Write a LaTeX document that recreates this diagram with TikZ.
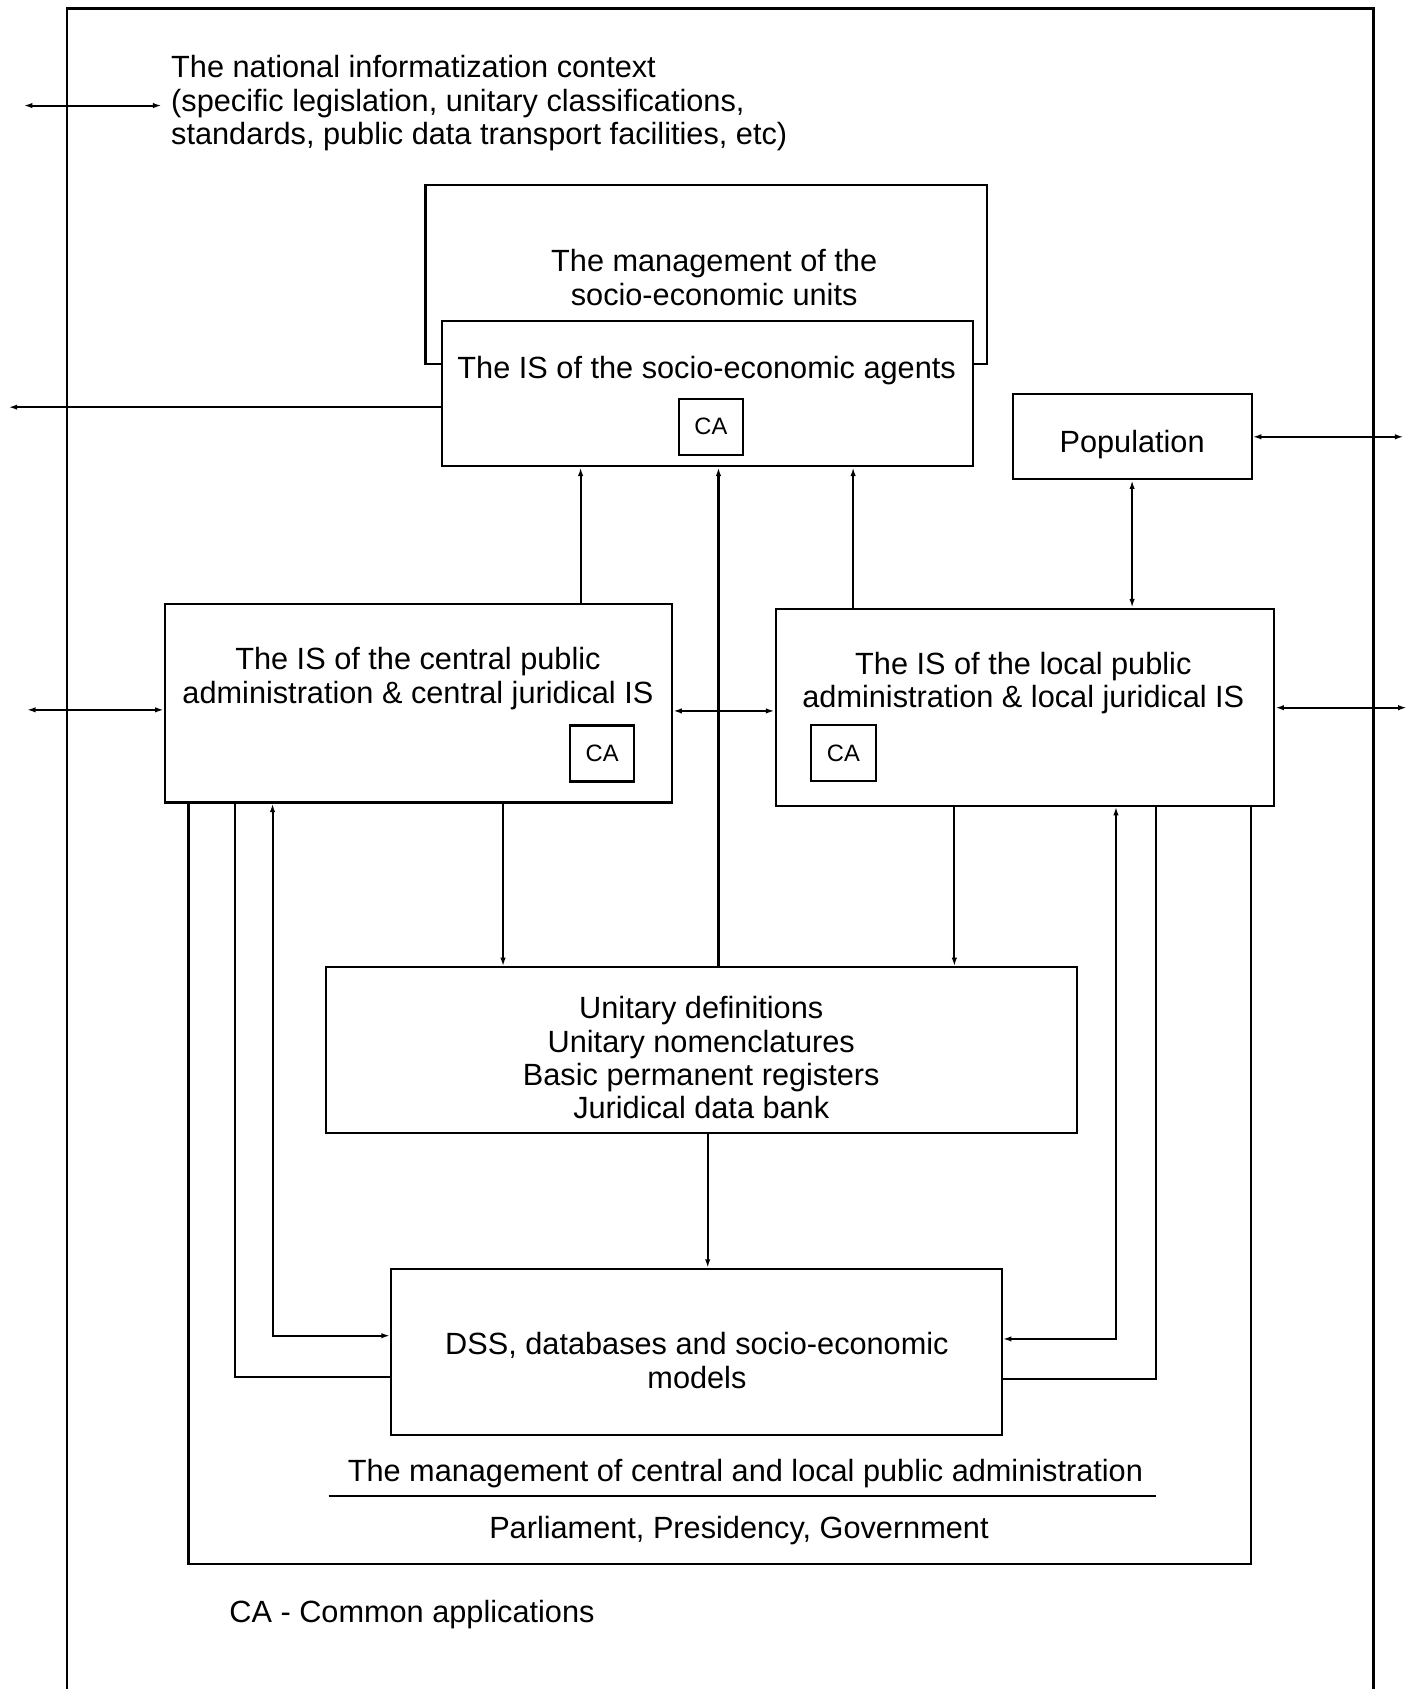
\documentclass[tikz,border=0pt]{standalone}
\usepackage{fontspec}
\setmainfont{Liberation Sans}
\usetikzlibrary{arrows.meta}
\begin{document}
\begin{tikzpicture}[x=1pt,y=-1pt,
  line width=1.9pt,
  >={Latex[length=8pt,width=5pt]},
  txt/.style={font=\fontsize{28.5}{31}\selectfont, align=center, inner sep=0pt},
  box/.style={draw, rectangle, inner sep=0pt, line width=1.9pt},
  cabox/.style={box, minimum width=60pt, minimum height=52pt, font=\fontsize{22}{24}\selectfont},
  frame/.style={line width=2.2pt}]
\useasboundingbox (0,0) rectangle (1313,1568);

% outer frame, open at the bottom
\draw[frame] (62,1568) -- (62,8) -- (1275,8) -- (1275,1568);

% national context
\node[txt, align=left, anchor=west] (ctx) at (158,96)
  {The national informatization context\\
   (specific legislation, unitary classifications,\\
   standards, public data transport facilities, etc)};
\coordinate (ctxL) at (22,98);
\draw[<->, shorten >=8pt] (ctxL) -- (ctx.west |- ctxL);

% socio-economic agents and their management
\node[box, minimum width=493pt, minimum height=135pt] (isbox) at (656.5,365.5) {};
\node[txt] (istxt) at (656,344) {The IS of the socio-economic agents};
\node[cabox] (caIS) at (660,396) {CA};
\draw (isbox.west |- 0,338) -- (395,338) -- (395,172) -- (916,172) -- (916,338) -- (isbox.east |- 0,338);
\node[txt] (mgmt) at (663,257.5) {The management of the\\socio-economic units};
\coordinate (isL) at (8,378);
\draw[->] (isbox.west |- isL) -- (isL);

% population
\node[box, minimum width=222pt, minimum height=79pt] (pop) at (1051,405.5) {};
\node[txt] (poptxt) at (1051,413) {Population};
\coordinate (popR) at (1303,407);
\draw[<->] (pop.east) -- (pop.east -| popR);

% central and local public administration IS
\node[box, minimum width=471pt, minimum height=184pt] (cen) at (388.5,653) {};
\node[txt] (centxt) at (388,630) {The IS of the central public\\administration \& central juridical IS};
\node[cabox] (caCen) at (559,699.5) {CA};

\node[box, minimum width=463pt, minimum height=183pt] (loc) at (951.5,656.5) {};
\node[txt] (loctxt) at (950,634) {The IS of the local public\\administration \& local juridical IS};
\node[cabox] (caLoc) at (783,699) {CA};

\draw[<->] (pop.south) -- (pop.south |- loc.north);
\draw[<->] (cen.east |- 0,660) -- (loc.west |- 0,660);
\coordinate (cenL) at (25,659);
\draw[<->] (cenL) -- (cen.west |- cenL);
\coordinate (locR) at (1306,657);
\draw[<->] (loc.east |- locR) -- (locR);

% unitary definitions and DSS
\node[box, minimum width=697pt, minimum height=154pt] (uni) at (651.5,975) {};
\node[txt] (unitxt) at (651,982) {Unitary definitions\\Unitary nomenclatures\\Basic permanent registers\\Juridical data bank};
\node[box, minimum width=567pt, minimum height=154pt] (dss) at (646.5,1255) {};
\node[txt] (dsstxt) at (647,1263) {DSS, databases and socio-economic\\models};

% links to the socio-economic agents
\draw[->] (539,0 |- cen.north) -- (539,0 |- isbox.south);
\draw[->] (792,0 |- loc.north) -- (792,0 |- isbox.south);
\draw[->] (667,0 |- uni.north) -- (667,0 |- isbox.south);

% links to the unitary definitions and DSS
\draw[->] (467,0 |- cen.south) -- (467,0 |- uni.north);
\draw[->] (886,0 |- loc.south) -- (886,0 |- uni.north);
\draw[->] (657,0 |- uni.south) -- (657,0 |- dss.north);

\draw (218,0 |- cen.south) -- (218,1278) -- (dss.west |- 0,1278);
\draw[<->] (253,0 |- cen.south) -- (253,1240) -- (dss.west |- 0,1240);
\draw[<->] (1036,0 |- loc.south) -- (1036,1243) -- (dss.east |- 0,1243);
\draw (1073,0 |- loc.south) -- (1073,1280) -- (dss.east |- 0,1280);

% management of the public administration
\draw (175,0 |- cen.south) -- (175,1452) -- (1161,1452) -- (1161,0 |- loc.south);
\node[txt] (pamgmt) at (692,1368) {The management of central and local public administration};
\draw (305,1389) -- (1073,1389);
\node[txt] (parl) at (686,1421) {Parliament, Presidency, Government};

% legend
\node[txt, anchor=west] (legend) at (212,1499) {CA - Common applications};
\end{tikzpicture}
\end{document}
